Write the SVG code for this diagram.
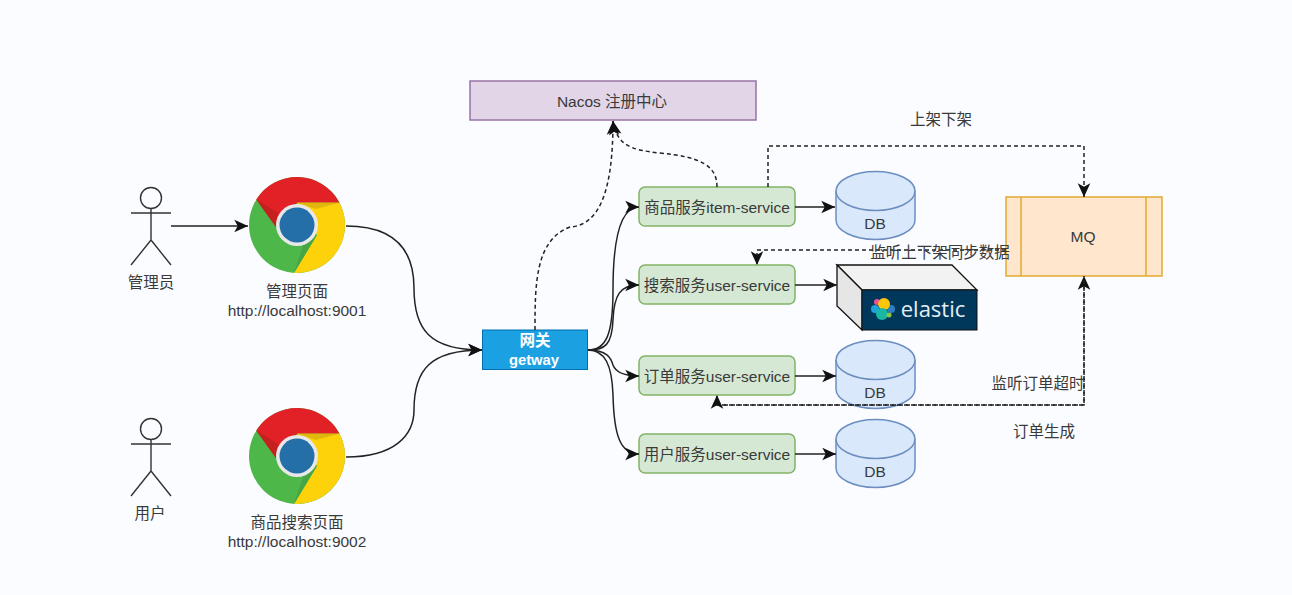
<svg xmlns="http://www.w3.org/2000/svg" xmlns:xlink="http://www.w3.org/1999/xlink" width="1292" height="595" viewBox="0 0 1292 595">
<style>
text{font-family:"Liberation Sans","Noto Sans CJK SC",sans-serif;font-size:15.5px;fill:#3a3a3a;text-anchor:middle}
.svc{fill:#d5e8d4;stroke:#82b366;stroke-width:1.5}
.db{fill:#dae8fc;stroke:#6c8ebf;stroke-width:1.5}
.actor{fill:none;stroke:#333;stroke-width:1.4}
.c{fill:none;stroke:#222;stroke-width:1.5}
.d{fill:none;stroke:#222;stroke-width:1.5;stroke-dasharray:4 3}
</style>
<defs>
<marker id="arrow" markerUnits="userSpaceOnUse" markerWidth="16" markerHeight="16" refX="13" refY="7" orient="auto" viewBox="0 0 14 14"><path d="M1,1.500 L13,7 L1,12.500 L4,7 Z" fill="#111"/></marker>
<g id="chrome">
<circle cx="0" cy="0" r="48" fill="#4db749"/>
<path d="M-40.700,-25.400 A48,48 0 0 1 42.500,-22.300 L0,-22.300 L-21,2 Z" fill="#e12126"/>
<path d="M42.500,-22.300 A48,48 0 0 1 -3,47.900 L20,10 L0,-22.300 Z" fill="#fdd20a"/>
<path d="M-40.700,-25.400 L-21,2 L-19,-12 Z" fill="#c3201f"/>
<path d="M0,-22.300 L42.500,-22.300 L19,-16 Z" fill="#e0b80d"/>
<path d="M-3,47.900 L20,10 L8,15 Z" fill="#46a544"/>
<circle cx="0" cy="0" r="21" fill="#e8e8e8"/>
<circle cx="0" cy="0" r="17.500" fill="#246fa8"/>
</g>
<g id="person" class="actor">
<circle cx="151" cy="198" r="10.500" fill="none"/>
<path d="M151,208.500V240M131,213H171M151,240L131,265M151,240L171,265"/>
</g>
</defs>
<rect width="1292" height="595" fill="#fbfcff"/>

<g id="admin"><use xlink:href="#person" href="#person"/><text x="151" y="288">管理员</text></g>
<g id="user"><use xlink:href="#person" href="#person" y="231"/><text x="150" y="519">用户</text></g>
<g id="admin-page"><use xlink:href="#chrome" href="#chrome" x="297" y="225"/><text x="297" y="297">管理页面</text><text x="297" y="316">http://localhost:9001</text></g>
<g id="search-page"><use xlink:href="#chrome" href="#chrome" x="297" y="456"/><text x="297" y="528">商品搜索页面</text><text x="297" y="547">http://localhost:9002</text></g>

<g id="nacos"><rect x="470" y="81" width="286" height="39" fill="#e1d5e7" stroke="#9673a6" stroke-width="1.500"/><text x="612" y="107">Nacos 注册中心</text></g>
<g id="gateway"><rect x="482.500" y="330" width="105" height="39.500" fill="#1ba1e2" stroke="#006eaf" stroke-width="1"/><text x="535" y="346" style="fill:#fff;font-weight:bold">网关</text><text x="534" y="365" style="fill:#fff;font-weight:bold;font-size:14.800px">getway</text></g>

<g id="item-service"><rect class="svc" x="639" y="187" width="156" height="39" rx="6"/><text x="717" y="213">商品服务item-service</text></g>
<g id="search-service"><rect class="svc" x="639" y="265" width="156" height="39" rx="6"/><text x="717" y="291">搜索服务user-service</text></g>
<g id="order-service"><rect class="svc" x="639" y="356" width="156" height="39" rx="6"/><text x="717" y="382">订单服务user-service</text></g>
<g id="user-service"><rect class="svc" x="639" y="434" width="156" height="39" rx="6"/><text x="717" y="460">用户服务user-service</text></g>

<g id="db1"><path class="db" d="M836,191 A39.500,19.500 0 0 1 915,191 V220 A39.500,19.500 0 0 1 836,220 Z"/><path class="db" d="M836,191 A39.500,19.500 0 0 0 915,191" fill="none"/><text x="875" y="229">DB</text></g>
<g id="db2"><path class="db" d="M836,360 A39.500,19.500 0 0 1 915,360 V389 A39.500,19.500 0 0 1 836,389 Z"/><path class="db" d="M836,360 A39.500,19.500 0 0 0 915,360" fill="none"/><text x="875" y="398">DB</text></g>
<g id="db3"><path class="db" d="M836,439 A39.500,19.500 0 0 1 915,439 V468 A39.500,19.500 0 0 1 836,468 Z"/><path class="db" d="M836,439 A39.500,19.500 0 0 0 915,439" fill="none"/><text x="875" y="477">DB</text></g>

<g id="elastic">
<path d="M837,265 H952 L977,290 H862 Z" fill="#f2f2f2" stroke="#111" stroke-width="1.300"/>
<path d="M837,265 L862,290 V330 L837,306 Z" fill="#e6e6e6" stroke="#111" stroke-width="1.300"/>
<rect x="862" y="290" width="115" height="40" fill="#00385c" stroke="#111" stroke-width="1"/>
<circle cx="877" cy="302" r="3" fill="#ee5097"/>
<circle cx="875" cy="309" r="4" fill="#1fa3dc"/>
<circle cx="891" cy="309" r="4" fill="#2b7fc0"/>
<circle cx="884" cy="304" r="6" fill="#fdc60a"/>
<circle cx="882" cy="314" r="6" fill="#18b8a5"/>
<circle cx="889" cy="315" r="2.500" fill="#8ec641"/>
<text x="933" y="317" style="font-family:'Open Sans','Liberation Sans',sans-serif;font-size:22px;fill:#e4eef3">elastic</text>
</g>

<g id="mq"><rect x="1006" y="197" width="156" height="79" fill="#ffe6cc" stroke="#e3a92f" stroke-width="1.500"/><path d="M1021,197V276M1146,197V276" fill="none" stroke="#e3a92f" stroke-width="1.500"/><text x="1083" y="242">MQ</text></g>

<g id="connectors">
<path class="c" d="M171,226H248" marker-end="url(#arrow)"/>
<path class="c" d="M346,226C395,226 414,250 414,288C414,330 430,350 482,350" marker-end="url(#arrow)"/>
<path class="c" d="M346,457C395,457 414,435 414,410C414,370 430,350 482,350" marker-end="url(#arrow)"/>
<path class="c" d="M588,350C606,350 613,335 613,290C613,240 620,207 639,207" marker-end="url(#arrow)"/>
<path class="c" d="M588,350C605,350 612,345 613,320C614,295 620,285 639,285" marker-end="url(#arrow)"/>
<path class="c" d="M588,350C607,350 611,358 613,365C616,373 625,376 639,376" marker-end="url(#arrow)"/>
<path class="c" d="M588,350C605,350 612,365 613,395C614,435 620,454 639,454" marker-end="url(#arrow)"/>
<path class="c" d="M795,207H835" marker-end="url(#arrow)"/>
<path class="c" d="M795,285H837" marker-end="url(#arrow)"/>
<path class="c" d="M795,376H836" marker-end="url(#arrow)"/>
<path class="c" d="M795,454H836" marker-end="url(#arrow)"/>
<path class="d" d="M535,330C535,285 535,240 570,227C600,225 613,190 613,121" marker-end="url(#arrow)"/>
<path class="d" d="M717,187C717,165 700,157 660,153C630,150 617,145 613,121" marker-end="url(#arrow)"/>
<path class="d" d="M768,187V146H1084V197" marker-end="url(#arrow)"/>
<path class="d" d="M1006,250H757V265" marker-end="url(#arrow)"/>
<path class="d" d="M717,405H1084V276" marker-end="url(#arrow)"/>
<path class="d" d="M1084,276V405H717V395" stroke-dashoffset="3" marker-end="url(#arrow)"/>
</g>

<g id="labels">
<text x="941" y="125">上架下架</text>
<text x="940" y="258">监听上下架同步数据</text>
<text x="1038" y="389">监听订单超时</text>
<text x="1044" y="437">订单生成</text>
</g>
</svg>
